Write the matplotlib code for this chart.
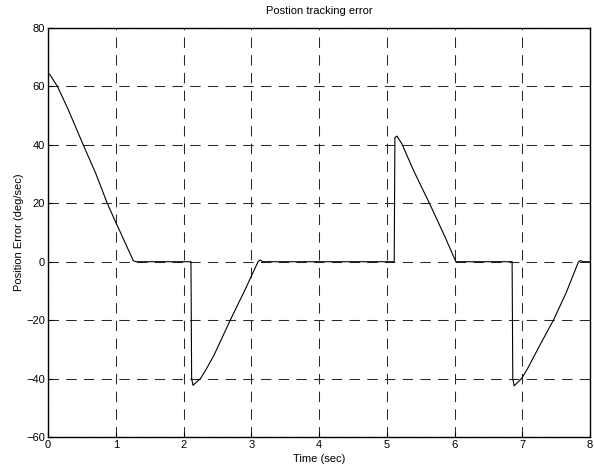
import matplotlib
matplotlib.use("Agg")
import matplotlib.pyplot as plt

# Position tracking error
time_sec = [0.0, 0.03, 0.07, 0.14, 0.30, 0.52, 0.70, 0.875, 0.99, 1.06, 1.26, 1.30,
            2.11, 2.12, 2.14, 2.25, 2.33, 2.45, 2.69, 2.90, 3.10, 3.13, 3.17,
            5.11, 5.12, 5.15, 5.22, 5.40, 5.63, 5.85, 6.02, 6.04,
            6.85, 6.86, 6.88, 6.99, 7.08, 7.25, 7.46, 7.65, 7.83, 7.86, 7.90, 8.0]
pos_error = [64.5, 64.0, 62.5, 60.0, 52.0, 40.0, 30.5, 20.0, 14.0, 10.5, 0.3, 0.0,
             0.0, -40.0, -42.3, -40.0, -37.0, -32.0, -20.0, -10.0, 0.0, 0.6, 0.0,
             0.0, 42.5, 43.0, 40.5, 31.0, 20.0, 9.0, 0.0, 0.0,
             0.0, -40.0, -42.5, -40.0, -36.5, -29.0, -20.0, -10.5, 0.0, 0.4, 0.0, 0.0]

x_ticks = [0, 1, 2, 3, 4, 5, 6, 7, 8]
y_ticks = [-60, -40, -20, 0, 20, 40, 60, 80]

plt.rcParams['font.family'] = ['Liberation Sans', 'DejaVu Sans']

fig = plt.figure(figsize=(5.94, 4.70), dpi=100)
ax = fig.add_axes([0.0808, 0.0702, 0.9125, 0.8702])

ax.plot(time_sec, pos_error, color='black', linewidth=0.8)

ax.set_xlim(0, 8)
ax.set_ylim(-60, 80)
ax.set_xticks(x_ticks)
ax.set_yticks(y_ticks)
ax.tick_params(direction='in', length=3.5, width=0.8, labelsize=8,
               top=False, right=False, pad=2)
ax.grid(True, color='#2a2a2a', linestyle=(0, (10, 7)), linewidth=0.75)
for s in ax.spines.values():
    s.set_linewidth(1.0)

ax.set_title("Postion tracking error", fontsize=8, pad=10)
ax.set_xlabel("Time (sec)", fontsize=8, labelpad=3)
ax.set_ylabel("Position Error (deg/sec)", fontsize=8, labelpad=2)

fig.savefig("out.png", dpi=100)
